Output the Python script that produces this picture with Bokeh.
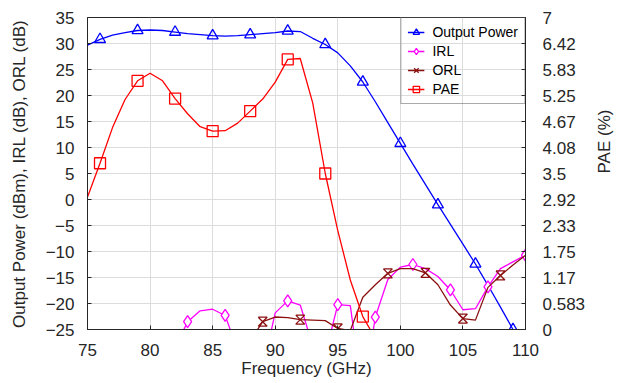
import math
from bokeh.plotting import figure
from bokeh.models import (Range1d, LinearAxis, FixedTicker, CustomJSTickFormatter,
                          Legend, LegendItem)
from bokeh.embed import file_html
from bokeh.resources import INLINE

# ---------------- data ----------------
freq_power = list(range(75, 110))
output_power = [29.7, 30.8, 31.6, 32.1, 32.5, 32.6, 32.5, 32.2, 31.9, 31.7, 31.5, 31.4,
                31.5, 31.7, 31.9, 32.1, 32.4, 32.3, 31.0, 29.8, 28.2, 25.7, 22.6, 18.8,
                14.8, 10.8, 6.8, 2.9, -1.0, -4.8, -8.6, -12.4, -16.5, -20.7, -25.0]
power_marker_freq = [76, 79, 82, 85, 88, 91, 94, 97, 100, 103, 106, 109]

freq_irl = list(range(82, 111))
irl = [-28.5, -23.5, -21.4, -21.1, -22.3, -29.0, -33.0, -32.5, -21.8, -19.5, -20.3,
       -28.1, -29.8, -20.2, -20.4, -38.0, -22.6, -15.4, -13.0, -12.5, -13.3, -14.8,
       -17.4, -21.2, -21.0, -16.8, -13.3, -12.0, -10.7]
irl_marker_freq = [83, 86, 91, 95, 98, 101, 104, 107, 110]

freq_orl = list(range(88, 111))
orl = [-27.2, -23.5, -22.6, -22.7, -23.1, -23.2, -23.3, -24.8, -25.2, -18.8, -16.4,
       -14.2, -13.3, -13.3, -14.1, -16.4, -20.3, -22.9, -23.2, -16.9, -14.6, -12.6, -10.7]
orl_marker_freq = [89, 92, 95, 99, 102, 105, 108]

freq_pae = list(range(75, 99))
pae = [2.97, 3.73, 4.53, 5.16, 5.58, 5.75, 5.58, 5.18, 4.84, 4.55, 4.45, 4.46,
       4.63, 4.90, 5.17, 5.55, 6.06, 6.08, 5.08, 3.50, 2.22, 1.11, 0.29, -0.20]
pae_marker_freq = [76, 79, 82, 85, 88, 91, 94, 97]

x_ticks = [75, 80, 85, 90, 95, 100, 105, 110]
left_ticks = [-25, -20, -15, -10, -5, 0, 5, 10, 15, 20, 25, 30, 35]
pae_ticks = [0, 7/12, 14/12, 21/12, 28/12, 35/12, 42/12, 49/12, 56/12, 63/12, 70/12, 77/12, 7]
pae_tick_labels = ["0", "0.583", "1.17", "1.75", "2.33", "2.92", "3.5", "4.08",
                   "4.67", "5.25", "5.83", "6.42", "7"]

# ---------------- styling ----------------
FONT = "Liberation Sans"
TXT = "#262626"
C_POW = "#0000FF"
C_IRL = "#FF00FF"
C_ORL = "#8B1010"
C_PAE = "#FF0000"

W, H = 626, 382
BL, BR, BT, BB = 87, 96, 17, 53

p = figure(width=W, height=H, output_backend="svg", toolbar_location=None,
           x_range=Range1d(75, 110), y_range=Range1d(-25, 35),
           min_border_left=BL, min_border_right=BR, min_border_top=BT, min_border_bottom=BB,
           y_axis_location=None, x_axis_location=None)
p.extra_y_ranges = {"pae": Range1d(0, 7)}
p.outline_line_color = TXT
p.outline_line_width = 1
p.background_fill_color = "white"
p.border_fill_color = "white"

xaxis = LinearAxis(ticker=FixedTicker(ticks=x_ticks), axis_label="Frequency (GHz)")
yaxis = LinearAxis(ticker=FixedTicker(ticks=left_ticks),
                   axis_label="Output Power (dBm), IRL (dB), ORL (dB)")
raxis = LinearAxis(y_range_name="pae", ticker=FixedTicker(ticks=pae_ticks),
                   formatter=CustomJSTickFormatter(args=dict(labels=pae_tick_labels),
                                                   code="return labels[index]"),
                   axis_label="PAE (%)")
for ax in (xaxis, yaxis, raxis):
    ax.axis_line_color = TXT
    ax.major_tick_in = 4
    ax.major_tick_out = 0
    ax.minor_tick_line_color = None
    ax.major_tick_line_color = TXT
    ax.major_label_text_font = FONT
    ax.major_label_text_font_size = "17px"
    ax.major_label_text_color = TXT
    ax.axis_label_text_font = FONT
    ax.axis_label_text_font_size = "17px"
    ax.axis_label_text_font_style = "normal"
    ax.axis_label_text_color = TXT
xaxis.major_label_standoff = 14
xaxis.axis_label_standoff = 0
yaxis.major_label_standoff = 13
yaxis.axis_label_standoff = 14
raxis.major_label_standoff = 17
raxis.axis_label_standoff = 16
raxis.axis_label_orientation = math.pi / 2
p.add_layout(xaxis, "below")
p.add_layout(yaxis, "left")
p.add_layout(raxis, "right")

p.xgrid.ticker = FixedTicker(ticks=x_ticks)
p.ygrid.ticker = FixedTicker(ticks=left_ticks)
for g in (p.xgrid, p.ygrid):
    g.grid_line_color = "#dcdcdc"
    g.grid_line_width = 1

LW = 1.3

# Output power
pow_map = dict(zip(freq_power, output_power))
r_pow_l = p.line(freq_power, output_power, line_color=C_POW, line_width=LW)
r_pow_m = p.scatter(power_marker_freq, [pow_map[f] for f in power_marker_freq],
                    marker="triangle", size=11, line_color=C_POW, fill_color=None,
                    line_width=LW)

# IRL
irl_map = dict(zip(freq_irl, irl))
r_irl_l = p.line(freq_irl, irl, line_color=C_IRL, line_width=LW)
r_irl_m = p.scatter(irl_marker_freq, [irl_map[f] for f in irl_marker_freq],
                    marker="diamond", size=12, line_color=C_IRL, fill_color="white",
                    line_width=LW)

# ORL with hourglass markers
orl_map = dict(zip(freq_orl, orl))
r_orl_l = p.line(freq_orl, orl, line_color=C_ORL, line_width=LW)
frame_w = W - BL - BR
frame_h = H - BT - BB
hx = 4.5 * 35 / frame_w
hy = 4.5 * 60 / frame_h
hxs, hys = [], []
for f in orl_marker_freq:
    v = orl_map[f]
    hxs.append([f - hx, f + hx, f - hx, f + hx, f - hx])
    hys.append([v + hy, v + hy, v - hy, v - hy, v + hy])
r_orl_m = p.multi_line(hxs, hys, line_color=C_ORL, line_width=LW)
r_orl_leg = p.scatter([float("nan")], [float("nan")], marker="x", size=10,
                      line_color=C_ORL, line_width=LW)

# PAE on right axis
pae_map = dict(zip(freq_pae, pae))
r_pae_l = p.line(freq_pae, pae, line_color=C_PAE, line_width=LW, y_range_name="pae")
r_pae_m = p.scatter(pae_marker_freq, [pae_map[f] for f in pae_marker_freq],
                    marker="square", size=11, line_color=C_PAE, fill_color=None,
                    line_width=LW, y_range_name="pae")

legend = Legend(items=[
    LegendItem(label="Output Power", renderers=[r_pow_l, r_pow_m]),
    LegendItem(label="IRL", renderers=[r_irl_l, r_irl_m]),
    LegendItem(label="ORL", renderers=[r_orl_l, r_orl_leg]),
    LegendItem(label="PAE", renderers=[r_pae_l, r_pae_m]),
], location="top_right")
legend.margin = 0
legend.padding = 6
legend.spacing = 3
legend.glyph_width = 17
legend.glyph_height = 16
legend.label_standoff = 8
legend.label_text_font = FONT
legend.label_text_font_size = "14px"
legend.label_text_color = "black"
legend.label_height = 16
legend.border_line_color = "#555555"
legend.border_line_width = 1
legend.background_fill_alpha = 0
p.add_layout(legend, "center")

open("out.html", "w").write(file_html(p, INLINE))
